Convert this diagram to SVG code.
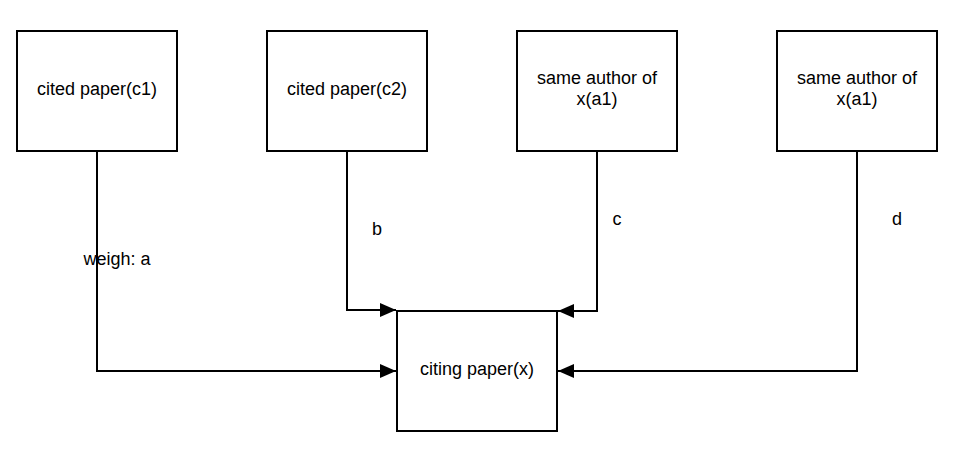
<svg xmlns="http://www.w3.org/2000/svg" width="971" height="459" viewBox="0 0 971 459">
<style>
.box{fill:#fff;stroke:#000;stroke-width:2}
.t{font-family:"Liberation Sans",Arial,sans-serif;font-size:18px;fill:#000;text-anchor:middle}
.e{fill:none;stroke:#000;stroke-width:2}
</style>
<defs>
<marker id="ah" markerUnits="userSpaceOnUse" markerWidth="17" markerHeight="16" refX="16" refY="8" orient="auto">
<path d="M0,1 L16,8 L0,15 Z" fill="#000"/>
</marker>
</defs>
<rect width="971" height="459" fill="#fff"/>
<g id="connectors">
<path class="e" d="M97,151 V371 H396" marker-end="url(#ah)"/>
<path class="e" d="M347,151 V310 H396" marker-end="url(#ah)"/>
<path class="e" d="M597,151 V311 H558" marker-end="url(#ah)"/>
<path class="e" d="M857,151 V371 H558" marker-end="url(#ah)"/>
<text class="t" x="117" y="265">weigh: a</text>
<text class="t" x="377" y="235">b</text>
<text class="t" x="617" y="225">c</text>
<text class="t" x="897" y="225">d</text>
</g>
<g id="c1"><rect class="box" x="17" y="31" width="160" height="120"/><text class="t" x="97" y="95">cited paper(c1)</text></g>
<g id="c2"><rect class="box" x="267" y="31" width="160" height="120"/><text class="t" x="347" y="95">cited paper(c2)</text></g>
<g id="a1"><rect class="box" x="517" y="31" width="160" height="120"/><text class="t" x="597" y="84">same author of</text><text class="t" x="597" y="105">x(a1)</text></g>
<g id="a1b"><rect class="box" x="777" y="31" width="160" height="120"/><text class="t" x="857" y="84">same author of</text><text class="t" x="857" y="105">x(a1)</text></g>
<g id="x"><rect class="box" x="397" y="311" width="160" height="120"/><text class="t" x="477" y="375">citing paper(x)</text></g>
</svg>
